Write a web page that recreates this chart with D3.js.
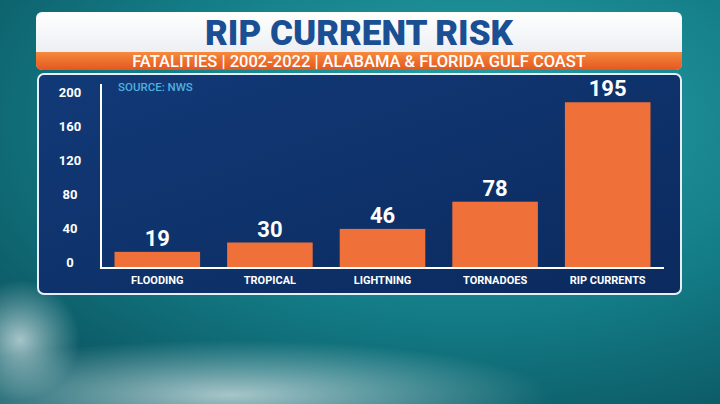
<!DOCTYPE html>
<html><head><meta charset="utf-8">
<script src="https://cdn.jsdelivr.net/npm/d3@7"></script>
<style>body{margin:0;overflow:hidden}svg{display:block}</style></head>
<body><svg id="c" width="720" height="404"></svg>
<script>
const categories = ["FLOODING","TROPICAL","LIGHTNING","TORNADOES","RIP CURRENTS"];
const values = [19,30,46,78,195];
const ticks = [0,40,80,120,160,200];
const title = "RIP CURRENT RISK";
const subtitle = "FATALITIES | 2002-2022 | ALABAMA & FLORIDA GULF COAST";
const source = "SOURCE: NWS";

const svg = d3.select("#c");
const defs = svg.append("defs");
const bg = defs.append("radialGradient").attr("id","bg").attr("cx","65%").attr("cy","30%").attr("r","80%");
bg.append("stop").attr("offset","0%").attr("stop-color","#2aa3a8");
bg.append("stop").attr("offset","60%").attr("stop-color","#137c86");
bg.append("stop").attr("offset","100%").attr("stop-color","#0c5a66");
svg.append("rect").attr("width",720).attr("height",404).attr("fill","url(#bg)");
const foam = defs.append("radialGradient").attr("id","foam");
foam.append("stop").attr("offset","0%").attr("stop-color","#e8f2f2").attr("stop-opacity",0.7);
foam.append("stop").attr("offset","100%").attr("stop-color","#cfe6e6").attr("stop-opacity",0);
svg.append("ellipse").attr("cx",230).attr("cy",395).attr("rx",320).attr("ry",55).attr("fill","url(#foam)");
svg.append("ellipse").attr("cx",20).attr("cy",340).attr("rx",60).attr("ry",60).attr("fill","url(#foam)");

const tg = defs.append("linearGradient").attr("id","tg").attr("x1",0).attr("y1",0).attr("x2",0).attr("y2",1);
tg.append("stop").attr("offset","0%").attr("stop-color","#ffffff");
tg.append("stop").attr("offset","100%").attr("stop-color","#e4e8ee");
const og = defs.append("linearGradient").attr("id","og").attr("x1",0).attr("y1",0).attr("x2",0).attr("y2",1);
og.append("stop").attr("offset","0%").attr("stop-color","#f58a3e");
og.append("stop").attr("offset","100%").attr("stop-color","#e4571f");
const pg = defs.append("linearGradient").attr("id","pg").attr("x1",0).attr("y1",0).attr("x2",1).attr("y2",1);
pg.append("stop").attr("offset","0%").attr("stop-color","#123a78");
pg.append("stop").attr("offset","100%").attr("stop-color","#0b2a5e");

svg.append("rect").attr("x",36).attr("y",12).attr("width",646).attr("height",58).attr("rx",6).attr("fill","url(#tg)");
svg.append("path").attr("d","M36,52 H682 V64 a6,6 0 0 1 -6,6 H42 a6,6 0 0 1 -6,-6 Z").attr("fill","url(#og)");
svg.append("text").attr("x",359).attr("y",45).attr("text-anchor","middle").attr("font-family","Roboto, 'Open Sans', sans-serif")
  .attr("font-weight",900).attr("font-size",35).attr("fill","#1b4f93").text(title);
svg.append("text").attr("x",359).attr("y",67).attr("text-anchor","middle").attr("font-family","Roboto, sans-serif")
  .attr("font-weight",500).attr("font-size",16.5).attr("fill","#fff").text(subtitle);

svg.append("rect").attr("x",38).attr("y",74).attr("width",643).attr("height",220).attr("rx",6)
  .attr("fill","url(#pg)").attr("stroke","#e8eef5").attr("stroke-width",2);

const x = d3.scaleBand().domain(categories).range([101,664]).paddingInner(0.24).paddingOuter(0.12);
const y = d3.scaleLinear().domain([0,200]).range([268,98]);
const font = "Roboto, 'Open Sans', sans-serif";

svg.append("g").selectAll("rect").data(values).join("rect")
  .attr("x",(d,i)=>x(categories[i])).attr("width",x.bandwidth())
  .attr("y",d=>y(d)).attr("height",d=>y(0)-y(d)).attr("fill","#f0703a");

svg.append("g").selectAll("text").data(values).join("text")
  .attr("x",(d,i)=>x(categories[i])+x.bandwidth()/2).attr("y",d=>y(d)-6)
  .attr("text-anchor","middle").attr("font-family",font).attr("font-weight",700).attr("font-size",22)
  .attr("fill","#fff").text(d=>d);

svg.append("g").selectAll("text").data(categories).join("text")
  .attr("x",d=>x(d)+x.bandwidth()/2).attr("y",284).attr("text-anchor","middle")
  .attr("font-family",font).attr("font-weight",700).attr("font-size",11).attr("fill","#fff").text(d=>d);

svg.append("g").selectAll("text").data(ticks).join("text")
  .attr("x",70).attr("y",d=>y(d)-1).attr("text-anchor","middle")
  .attr("font-family",font).attr("font-weight",700).attr("font-size",13).attr("fill","#fff").text(d=>d);

svg.append("path").attr("d",`M101,84 V${y(0)} H664`).attr("fill","none").attr("stroke","#fff").attr("stroke-width",2);
svg.append("text").attr("x",118).attr("y",91).attr("font-family",font).attr("font-weight",500)
  .attr("font-size",11.5).attr("fill","#4fb0e0").text(source);
</script></body></html>
